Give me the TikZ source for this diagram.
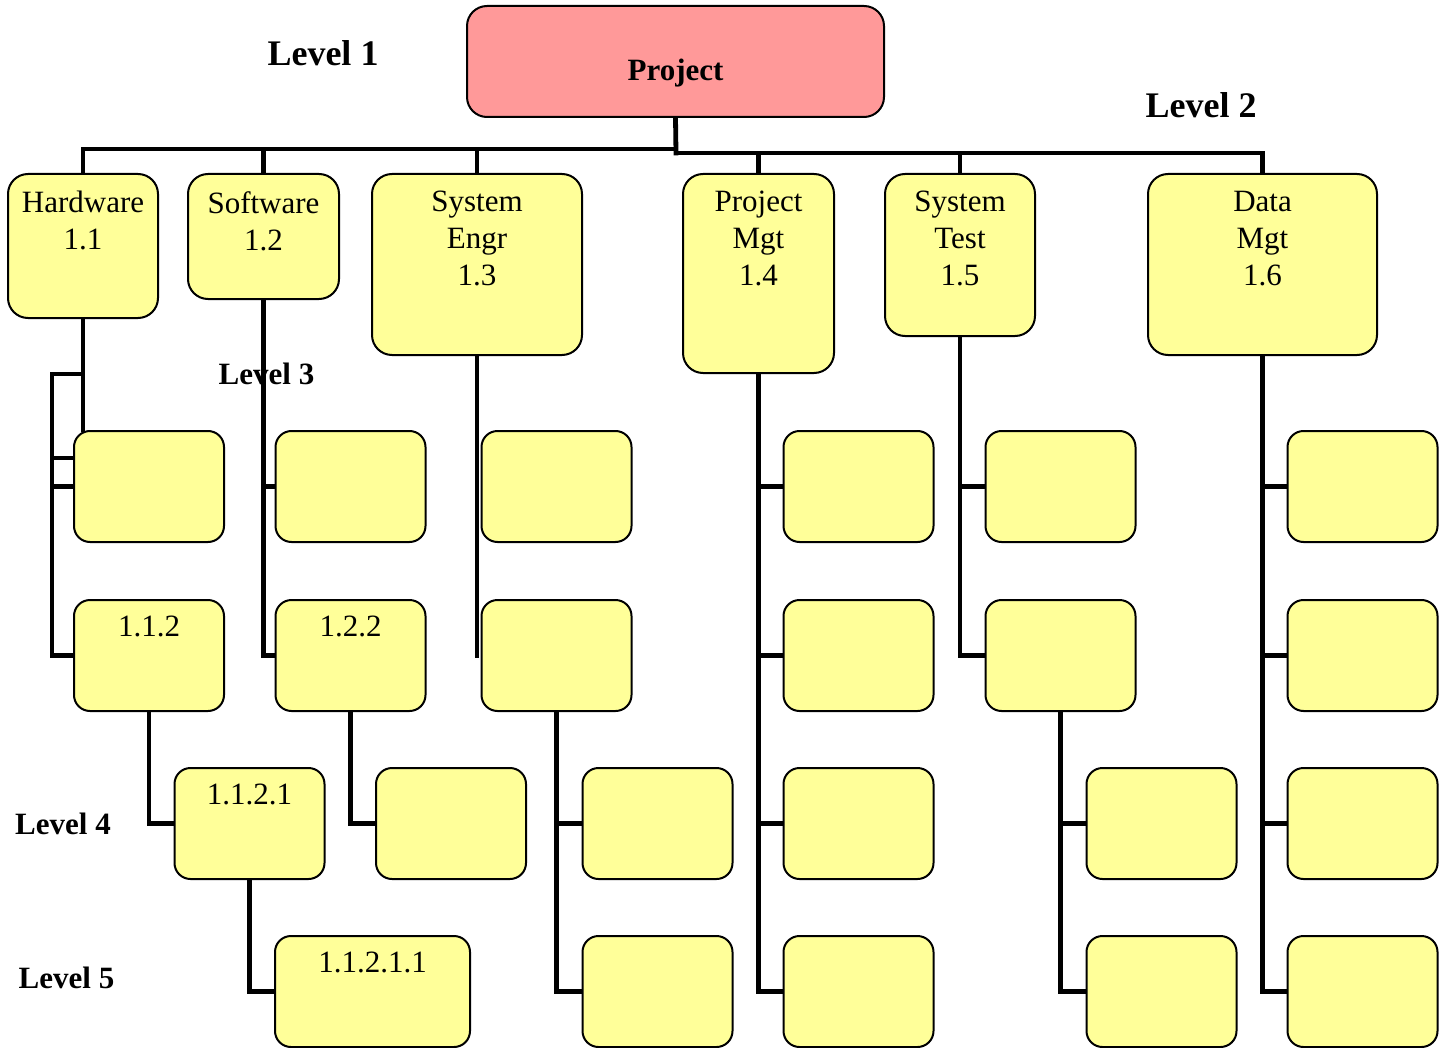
\documentclass[tikz,border=0pt]{standalone}
\usepackage{fontspec}
\setmainfont{Liberation Serif}
\usepackage{xcolor}
\definecolor{wbsyellow}{HTML}{FFFF99}
\definecolor{wbspink}{HTML}{FF9999}
\usepackage{tikz}
\usetikzlibrary{positioning, backgrounds}

\begin{document}
\begin{tikzpicture}[x=0.5pt, y=-0.5pt,
  rootbox/.style={draw=black, line width=1pt, fill=wbspink, rounded corners=10pt,
    minimum width=208.5pt, minimum height=55.5pt, inner sep=0pt},
  l2box/.style={draw=black, line width=1pt, fill=wbsyellow, rounded corners=10pt,
    inner sep=0pt},
  wbox/.style={draw=black, line width=1pt, fill=wbsyellow, rounded corners=8pt,
    minimum width=75pt, minimum height=55.5pt, inner sep=0pt},
  roottext/.style={anchor=north, inner sep=0pt, yshift=-27pt,
    font=\bfseries\fontsize{15.5}{18.5}\selectfont},
  boxtext/.style={anchor=north, inner sep=0pt, yshift=-9pt, align=center,
    font=\fontsize{15.5}{18.5}\selectfont},
  numtext/.style={anchor=north, inner sep=0pt, yshift=-8.5pt,
    font=\fontsize{15.5}{18.5}\selectfont},
  levelbig/.style={font=\bfseries\fontsize{18}{21}\selectfont},
  levelsmall/.style={font=\bfseries\fontsize{15.5}{18.5}\selectfont},
  tree/.style={draw=black, line width=2.4pt, line cap=rect},
]
  \useasboundingbox (0,0) rectangle (1450,1048);

  % level 1 and 2
  \node[rootbox, label={[roottext]north:Project}] (proj) at (675.5,61.5) {};
  \node[l2box, minimum width=75pt, minimum height=72pt,
    label={[boxtext]north:Hardware\\1.1}] (hw) at (83,246) {};
  \node[l2box, minimum width=75.5pt, minimum height=62.5pt,
    label={[boxtext]north:Software\\1.2}] (sw) at (263.5,236.5) {};
  \node[l2box, minimum width=105pt, minimum height=90.5pt,
    label={[boxtext]north:System\\Engr\\1.3}] (se) at (477,264.5) {};
  \node[l2box, minimum width=75.5pt, minimum height=99.5pt,
    label={[boxtext]north:Project\\Mgt\\1.4}] (pm) at (758.5,273.5) {};
  \node[l2box, minimum width=75pt, minimum height=81pt,
    label={[boxtext]north:System\\Test\\1.5}] (st) at (960,255) {};
  \node[l2box, minimum width=114.5pt, minimum height=90.5pt,
    label={[boxtext]north:Data\\Mgt\\1.6}] (dm) at (1262.5,264.5) {};

  % level 3 to 5
  \node[wbox] (hwA) at (149,486.5) {};
  \node[wbox, label={[numtext]north:1.1.2}] (hwB) at (149,655.5) {};
  \node[wbox, label={[numtext]north:1.1.2.1}] (hwC) at (249.5,823.5) {};
  \node[wbox, minimum width=97.5pt, label={[numtext]north:1.1.2.1.1}] (hwD) at (372.5,991.5) {};

  \node[wbox] (swA) at (350.5,486.5) {};
  \node[wbox, label={[numtext]north:1.2.2}] (swB) at (350.5,655.5) {};
  \node[wbox] (swC) at (451,823.5) {};

  \node[wbox] (seA) at (556.5,486.5) {};
  \node[wbox] (seB) at (556.5,655.5) {};
  \node[wbox] (seC) at (657.5,823.5) {};
  \node[wbox] (seD) at (657.5,991.5) {};

  \node[wbox] (stA) at (1060.5,486.5) {};
  \node[wbox] (stB) at (1060.5,655.5) {};
  \node[wbox] (stC) at (1161.5,823.5) {};
  \node[wbox] (stD) at (1161.5,991.5) {};

  \foreach \r/\y in {A/486.5, B/655.5, C/823.5, D/991.5} {
    \node[wbox] (pm\r) at (858.5,\y) {};
    \node[wbox] (dm\r) at (1362.5,\y) {};
  }

  % level captions
  \node[levelbig] (lv1) at (323,53.5) {Level 1};
  \node[levelbig] (lv2) at (1201,105) {Level 2};
  \node[levelsmall] (lv3) at (266.5,373.5) {Level 3};
  \node[levelsmall] (lv4) at (63,824) {Level 4};
  \node[levelsmall] (lv5) at (66.5,978) {Level 5};

  \begin{scope}[on background layer]
    \coordinate (busL) at (676,149);
    \coordinate (busR) at (676,153);
    \draw[tree] (proj.south) -- (busR);
    \draw[tree] (hw.north) -- (hw.north |- busL) -- (busL);
    \draw[tree] (busR) -- (dm.north |- busR) -- (dm.north);
    \foreach \n in {sw,se} \draw[tree] (\n.north |- busL) -- (\n.north);
    \foreach \n in {pm,st} \draw[tree] (\n.north |- busR) -- (\n.north);

    % hardware
    \coordinate (hwbr) at (52,374);
    \draw[tree] (hw.south) -- (hw.south |- hwA.north);
    \draw[tree] (hw.south |- hwbr) -- (hwbr) |- (hwB.west);
    \draw[tree] (hwbr |- hwA.west) -- (hwA.west);
    \draw[tree] (hwbr |- 0,458) -- (hwA.west |- 0,458);
    \draw[tree] (hwB.south) |- (hwC.west);
    \draw[tree] (hwC.south) |- (hwD.west);

    % software
    \draw[tree] (sw.south) |- (swB.west);
    \draw[tree] (sw.south |- swA.west) -- (swA.west);
    \draw[tree] (swB.south) |- (swC.west);

    % system engr
    \draw[tree] (se.south) -- (se.south |- seB.west);
    \draw[tree] (seB.south) |- (seD.west);
    \draw[tree] (seB.south |- seC.west) -- (seC.west);

    % system test
    \draw[tree] (st.south) |- (stB.west);
    \draw[tree] (st.south |- stA.west) -- (stA.west);
    \draw[tree] (stB.south) |- (stD.west);
    \draw[tree] (stB.south |- stC.west) -- (stC.west);

    % project mgt, data mgt
    \foreach \n in {pm,dm} {
      \draw[tree] (\n.south) |- (\n D.west);
      \foreach \r in {A,B,C} \draw[tree] (\n.south |- \n\r.west) -- (\n\r.west);
    }
  \end{scope}
\end{tikzpicture}
\end{document}
